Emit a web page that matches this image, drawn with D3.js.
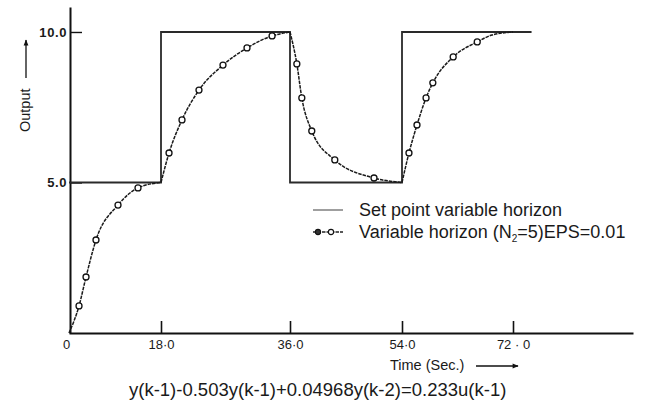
<!DOCTYPE html>
<html><head><meta charset="utf-8">
<script src="https://cdn.jsdelivr.net/npm/d3@7"></script>
<style>
html,body{margin:0;padding:0;background:#fff;}
text{font-family:"Liberation Sans",Arial,sans-serif;fill:#1a1a1a;}
</style></head>
<body>
<svg id="c" width="649" height="402"></svg>
<script>
// ---- data ----
const xTickValues = [0, 18, 36, 54, 72];
const xTickLabels = ["0", "18·0", "36·0", "54·0", "72 · 0"];
const yTickValues = [5, 10];
const yTickLabels = ["5.0", "10.0"];

const setTime  = [0, 18, 18, 36, 36, 54, 54, 75];
const setValue = [5, 5, 10, 10, 5, 5, 10, 10];

const respTime  = [0, 1.96, 3.33, 5.28, 9.59, 13.5, 18.0,
                   18.0, 19.12, 20.93, 23.3, 26.65, 30.0, 33.5, 36.0,
                   36.0, 37.1, 37.9, 39.5, 43.2, 49.5, 54.0,
                   54.0, 55.13, 56.43, 57.9, 59.0, 62.3, 66.2, 68.6, 72.0];
const respValue = [0, 0.90, 1.86, 3.09, 4.25, 4.82, 5.0,
                   5.0, 5.98, 7.08, 8.07, 8.90, 9.47, 9.87, 10.0,
                   10.0, 8.94, 7.81, 6.71, 5.75, 5.15, 5.0,
                   5.0, 5.98, 6.91, 7.81, 8.31, 9.17, 9.67, 9.90, 10.0];
const respMark  = [0, 1, 1, 1, 1, 1, 0,
                   0, 1, 1, 1, 1, 1, 1, 0,
                   0, 1, 1, 1, 1, 1, 0,
                   0, 1, 1, 1, 1, 1, 1, 0, 0];
const respSegment = [0,0,0,0,0,0,0, 1,1,1,1,1,1,1,1, 2,2,2,2,2,2,2, 3,3,3,3,3,3,3,3,3];

const legendLabels = ["Set point variable horizon", "Variable horizon (N", "2", "=5)EPS=0.01"];
const xTitle = "Time (Sec.)";
const yTitle = "Output";
const equation = "y(k-1)-0.503y(k-1)+0.04968y(k-2)=0.233u(k-1)";

// ---- scales ----
const svg = d3.select("#c");
const x = d3.scaleLinear().domain([0, 18, 36, 54, 72, 91.4]).range([69, 161, 290, 402, 513, 633]);
const y = d3.scaleLinear().domain([0, 10.83]).range([333, 7]);

// ---- axes ----
const xAxis = d3.axisBottom(x).tickValues(xTickValues)
  .tickFormat((d, i) => xTickLabels[i]).tickSizeInner(-12).tickSizeOuter(0).tickPadding(7);
const gx = svg.append("g").attr("transform", "translate(0,333)").call(xAxis);
gx.select(".domain").attr("stroke", "#111").attr("stroke-width", 2);
gx.selectAll(".tick line").attr("stroke", "#111").attr("stroke-width", 1.6);
gx.selectAll(".tick text").attr("font-size", 13).attr("fill", "#222")
  .attr("font-family", "'Liberation Sans',Arial,sans-serif");
gx.selectAll(".tick").filter(d => d === 0).select("line").remove();
gx.selectAll(".tick").filter(d => d === 0).select("text").attr("dx", -3);

const yAxis = d3.axisLeft(y).tickValues(yTickValues)
  .tickFormat((d, i) => yTickLabels[i]).tickSizeInner(-12).tickSizeOuter(0).tickPadding(3);
const gy = svg.append("g").attr("transform", "translate(70,0)").call(yAxis);
gy.select(".domain").attr("stroke", "#111").attr("stroke-width", 2);
gy.selectAll(".tick line").attr("stroke", "#111").attr("stroke-width", 1.4);
gy.selectAll(".tick text").attr("font-size", 13).attr("fill", "#222")
  .attr("letter-spacing", "0.6px").attr("font-weight", "bold")
  .attr("font-family", "'Liberation Sans',Arial,sans-serif");

// ---- set point ----
const setPts = setTime.map((t, i) => [t, setValue[i]]);
svg.append("path").datum(setPts)
  .attr("d", d3.line().x(d => x(d[0])).y(d => y(d[1])))
  .attr("fill", "none").attr("stroke", "#2a2a2a").attr("stroke-width", 1.8);

// ---- response ----
const respPts = respTime.map((t, i) => ({t, v: respValue[i], m: respMark[i], s: respSegment[i]}));
const segs = d3.groups(respPts, d => d.s);
const rline = d3.line().x(d => x(d.t)).y(d => y(d.v)).curve(d3.curveMonotoneX);
svg.append("g").selectAll("path").data(segs).join("path")
  .attr("d", d => rline(d[1]))
  .attr("fill", "none").attr("stroke", "#1a1a1a").attr("stroke-width", 1.5)
  .attr("stroke-dasharray", "3.5,1");
svg.append("g").selectAll("circle").data(respPts.filter(d => d.m)).join("circle")
  .attr("cx", d => x(d.t)).attr("cy", d => y(d.v)).attr("r", 3)
  .attr("fill", "#fff").attr("stroke", "#111").attr("stroke-width", 1.3);

// ---- legend ----
const lg = svg.append("g");
lg.append("line").attr("x1", 313).attr("x2", 343).attr("y1", 210).attr("y2", 210)
  .attr("stroke", "#888").attr("stroke-width", 1.6);
lg.append("text").attr("x", 359).attr("y", 216).attr("font-size", 18).text(legendLabels[0]);
lg.append("line").attr("x1", 313).attr("x2", 343).attr("y1", 232).attr("y2", 232)
  .attr("stroke", "#222").attr("stroke-width", 1.4).attr("stroke-dasharray", "3.5,1");
lg.selectAll("circle.lm").data([318, 331]).join("circle").attr("class", "lm")
  .attr("cx", d => d).attr("cy", 232).attr("r", 2.6)
  .attr("fill", (d, i) => i === 0 ? "#333" : "#fff").attr("stroke", "#111").attr("stroke-width", 1.1);
const t2 = lg.append("text").attr("x", 359).attr("y", 238).attr("font-size", 18);
t2.append("tspan").text(legendLabels[1]);
t2.append("tspan").attr("font-size", 10).attr("dy", 4).text(legendLabels[2]);
t2.append("tspan").attr("dy", -4).text(legendLabels[3]);

// ---- axis titles ----
svg.append("text").attr("x", 390).attr("y", 370).attr("font-size", 14.5).text(xTitle);
svg.append("defs").append("marker").attr("id", "ah").attr("viewBox", "0 0 10 10")
  .attr("refX", 9).attr("refY", 5).attr("markerWidth", 7).attr("markerHeight", 6)
  .attr("markerUnits", "userSpaceOnUse").attr("orient", "auto")
  .append("path").attr("d", "M0,1L10,5L0,9Z").attr("fill", "#111");
svg.append("line").attr("x1", 476).attr("x2", 518).attr("y1", 366).attr("y2", 366)
  .attr("stroke", "#111").attr("stroke-width", 1.3).attr("marker-end", "url(#ah)");

svg.append("text").attr("transform", "translate(30,132) rotate(-90)")
  .attr("font-size", 14.5).text(yTitle);
svg.append("line").attr("x1", 26).attr("x2", 26).attr("y1", 78).attr("y2", 40)
  .attr("stroke", "#111").attr("stroke-width", 1.3).attr("marker-end", "url(#ah)");

// ---- equation ----
svg.append("text").attr("x", 129).attr("y", 396).attr("font-size", 18.5).text(equation);
</script>
</body></html>
